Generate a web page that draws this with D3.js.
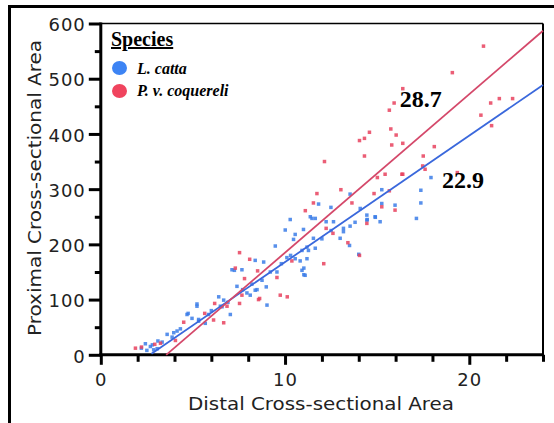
<!DOCTYPE html>
<html><head><meta charset="utf-8">
<script src="https://cdn.jsdelivr.net/npm/d3@7"></script>
<style>body{margin:0;background:#fff}svg{display:block}</style>
</head><body>
<script>
const seriesNames = ["L. catta", "P. v. coquereli"];
const slopes = [22.9, 28.7];
const intercepts = [-61, -102];
const lineStartX = [2.75, 3.55];
const lineEndX = [24, 24];
const xTicksMajor = [0, 10, 20];
const yTicksMajor = [0, 100, 200, 300, 400, 500, 600];
const blueX = [2.2,2.42,2.5,2.69,2.8,2.87,3.06,3.1,3.33,3.6,3.87,3.96,4.14,4.32,4.68,4.74,4.95,5.22,5.22,5.31,5.31,5.67,5.85,6.0,6.4,6.58,6.49,6.67,6.9,7.03,7.12,7.25,7.39,7.66,7.7,7.93,8.11,8.2,8.38,8.38,8.48,8.75,8.84,8.98,9.02,9.2,9.47,9.56,9.8,10.01,10.1,10.28,10.3,10.46,10.55,10.55,10.82,10.92,10.92,11.0,11.02,11.02,11.09,11.19,11.19,11.27,11.37,11.46,11.54,11.64,11.64,11.82,12.0,12.23,12.49,12.5,12.63,12.99,13.17,13.17,13.5,13.53,13.53,13.8,14.0,14.08,14.44,14.44,14.46,14.89,14.9,15.16,15.25,15.25,15.97,17.13,17.37,17.37,17.92];
const blueY = [12,20,8,15,18,9,11,25,23,37,32,40,43,47,73,75,66,92,88,64,61,57,73,80,105,87,88,99,95,73,154,153,124,154,118,112,108,128,117,171,118,135,168,123,90,150,197,150,165,226,176,245,180,209,218,174,170,153,189,227,157,145,144,195,174,189,250,247,211,247,193,273,210,241,267,225,241,211,229,223,198,291,233,240,182,265,244,253,245,250,249,241,299,274,271,247,298,275,321];
const redX = [1.88,2.21,2.93,3.24,4.05,4.5,5.64,6.12,6.18,6.67,6.85,7.3,7.53,7.53,7.66,7.8,8.08,8.51,8.56,8.62,9.56,9.74,10.12,10.37,11.1,11.54,11.73,12.1,12.14,12.23,12.6,13.03,13.41,13.63,14.04,14.04,14.31,14.31,14.44,14.58,14.83,15.01,15.25,15.43,15.66,15.66,15.74,15.79,15.92,15.97,16.03,16.34,16.39,16.39,16.39,17.47,17.5,17.6,18.1,19.08,19.35,20.63,20.77,21.16,21.21,21.63,22.35];
const redY = [12,14,19,21,26,59,75,63,93,58,88,157,185,93,108,138,173,152,100,102,140,108,105,170,261,275,292,165,350,229,220,299,203,275,180,388,392,360,238,403,292,321,268,327,443,297,409,380,456,262,398,327,482,383,327,342,360,336,377,511,330,434,559,456,415,464,464];
const labelText = ["22.9", "28.7"];
const labelX = [18.52, 16.23];
const labelY = [302, 449];

const colors = ["#3b7de8", "#e8425e"];
const lineColors = ["#3a68dc", "#d4486a"];
const legendColors = ["#3d84f4", "#f0445e"];

const W = 554, H = 423;
const svg = d3.select("body").append("svg").attr("width", W).attr("height", H);
const x = d3.scaleLinear().domain([0, 24]).range([100.8, 543]);
const y = d3.scaleLinear().domain([0, 600]).range([354.8, 23.5]);

// outer frame
svg.append("line").attr("x1", 8).attr("x2", W).attr("y1", 6.5).attr("y2", 6.5).attr("stroke", "#000").attr("stroke-width", 3);
svg.append("line").attr("x1", 9.5).attr("x2", 9.5).attr("y1", 5).attr("y2", H).attr("stroke", "#000").attr("stroke-width", 3);

// plot box top/right
svg.append("line").attr("x1", x(0)).attr("x2", x(24)).attr("y1", y(600)).attr("y2", y(600)).attr("stroke", "#000").attr("stroke-width", 1.5);
svg.append("line").attr("x1", x(24)).attr("x2", x(24)).attr("y1", y(600)).attr("y2", y(0)).attr("stroke", "#000").attr("stroke-width", 2);

const tickFont = "'DejaVu Sans', sans-serif";
// x axis
const xAxis = d3.axisBottom(x).tickValues(d3.range(0, 25, 2)).tickSize(7).tickFormat(d => xTicksMajor.includes(d) ? d : "");
const gx = svg.append("g").attr("transform", `translate(0,${y(0)})`).call(xAxis);
gx.select(".domain").attr("stroke-width", 3).attr("d", `M${x(0)-1.5},0H${x(24)+1}`);
gx.selectAll(".tick line").attr("stroke-width", 3).attr("y2", d => xTicksMajor.includes(d) ? 10 : 7);
gx.selectAll(".tick text").attr("font-family", tickFont).attr("font-size", 18).attr("fill", "#222").attr("y", 18).attr("dy", "0.71em").attr("letter-spacing", 1);

// y axis
const yAxis = d3.axisLeft(y).tickValues(d3.range(0, 601, 50)).tickSize(6).tickFormat(d => yTicksMajor.includes(d) ? d : "");
const gy = svg.append("g").attr("transform", `translate(${x(0)},0)`).call(yAxis);
gy.select(".domain").attr("stroke-width", 3).attr("d", `M0,${y(600)-1}V${y(0)+1.5}`);
gy.selectAll(".tick line").attr("stroke-width", 3).attr("x2", d => yTicksMajor.includes(d) ? -12 : -6);
gy.selectAll(".tick text").attr("font-family", tickFont).attr("font-size", 18).attr("fill", "#222").attr("x", -15).attr("dy", "0.4em").attr("letter-spacing", 1);

// axis titles
svg.append("text").attr("x", 321).attr("y", 410).attr("text-anchor", "middle")
  .attr("font-family", tickFont).attr("font-size", 17.5).attr("fill", "#222")
  .attr("textLength", 266).attr("lengthAdjust", "spacingAndGlyphs")
  .text("Distal Cross-sectional Area");
svg.append("text").attr("transform", "translate(41,188) rotate(-90)").attr("text-anchor", "middle")
  .attr("font-family", tickFont).attr("font-size", 17.5).attr("fill", "#222")
  .attr("textLength", 296).attr("lengthAdjust", "spacingAndGlyphs")
  .text("Proximal Cross-sectional Area");

// points
const series = [
  blueX.map((v, i) => ({x: v, y: blueY[i]})),
  redX.map((v, i) => ({x: v, y: redY[i]}))
];
const plot = svg.append("g");
series.forEach((pts, si) => {
  plot.append("g").selectAll("rect").data(pts).join("rect")
    .attr("x", d => x(d.x) - 1.75).attr("y", d => y(d.y) - 1.75)
    .attr("width", 3.5).attr("height", 3.5)
    .attr("fill", colors[si]).attr("opacity", 0.85);
});
// regression lines
series.forEach((pts, si) => {
  const ends = [lineStartX[si], lineEndX[si]].map(xv => ({x: xv, y: slopes[si] * xv + intercepts[si]}));
  plot.append("path").datum(ends)
    .attr("d", d3.line().x(d => x(d.x)).y(d => y(d.y)))
    .attr("fill", "none").attr("stroke", lineColors[si]).attr("stroke-width", 1.8);
});

// slope labels
labelText.forEach((t, i) => {
  svg.append("text").attr("x", x(labelX[i])).attr("y", y(labelY[i]))
    .attr("font-family", "'Liberation Serif', 'Times New Roman', serif").attr("font-weight", "bold")
    .attr("font-size", 24).attr("fill", "#000").text(t);
});

// legend
const lg = svg.append("g");
lg.append("text").attr("x", 111).attr("y", 46).attr("font-family", "'Liberation Serif', serif")
  .attr("font-weight", "bold").attr("font-size", 20).attr("text-decoration", "underline").text("Species");
seriesNames.forEach((n, i) => {
  lg.append("ellipse").attr("cx", 119.5).attr("cy", 68 + i * 23).attr("rx", 7.5).attr("ry", 7).attr("fill", legendColors[i]);
  lg.append("text").attr("x", 137).attr("y", 74 + i * 22).attr("font-family", "'Liberation Serif', serif")
    .attr("font-weight", "bold").attr("font-style", "italic").attr("font-size", 16).text(n);
});
</script>
</body></html>
